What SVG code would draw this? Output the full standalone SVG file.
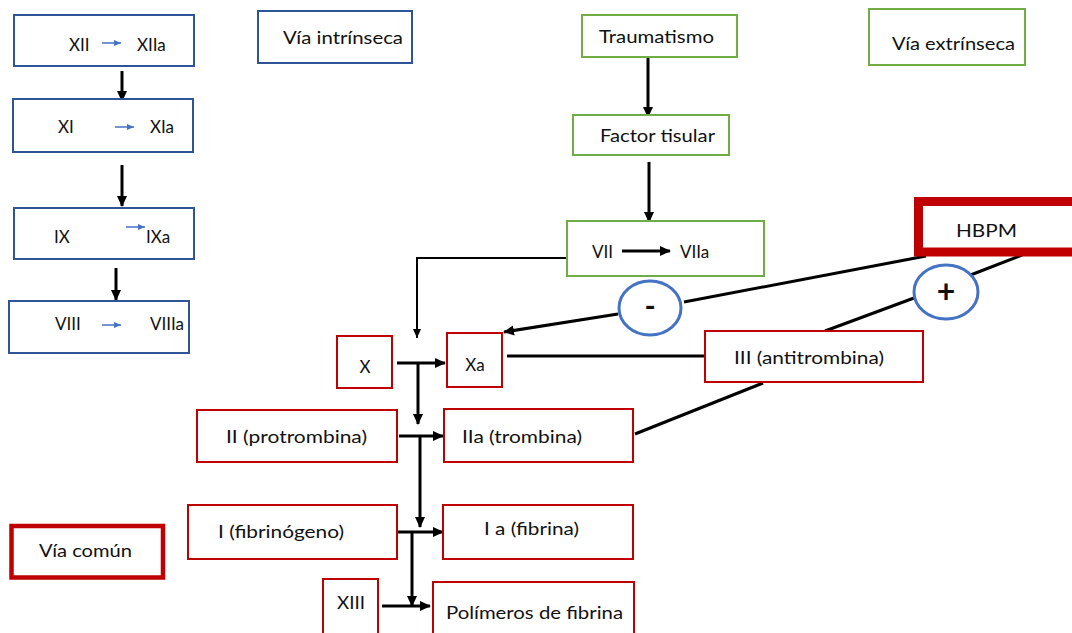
<svg xmlns="http://www.w3.org/2000/svg" width="1072" height="633" viewBox="0 0 1072 633">
<style>
text{font-family:Lato,"Open Sans","Liberation Sans",sans-serif;font-size:17px;fill:#111}
.b{fill:#fff;stroke:#2F5597;stroke-width:2}
.g{fill:#fff;stroke:#70AD47;stroke-width:2}
.r{fill:#fff;stroke:#C00000;stroke-width:2}
.c{stroke:#000;stroke-width:3;fill:none}
.t{stroke:#000;stroke-width:2;fill:none}
.bl{stroke:#4472C4;stroke-width:1.5;fill:none}
.o{fill:#fff;stroke:#4472C4;stroke-width:3}
</style>
<defs>
<marker id="ah" markerUnits="userSpaceOnUse" markerWidth="12" markerHeight="12" refX="10" refY="6" orient="auto"><path d="M0,1 L11,6 L0,11 Z" fill="#000"/></marker>
<marker id="ahs" markerUnits="userSpaceOnUse" markerWidth="10" markerHeight="10" refX="9" refY="5" orient="auto"><path d="M0,1 L9,5 L0,9 Z" fill="#000"/></marker>
<marker id="ab" markerUnits="userSpaceOnUse" markerWidth="8" markerHeight="8" refX="7" refY="4" orient="auto"><path d="M0,1 L7,4 L0,7 Z" fill="#4472C4"/></marker>
</defs>
<rect width="1072" height="633" fill="#fff"/>

<g id="connectors">
<line class="c" x1="122" y1="71" x2="122" y2="101" marker-end="url(#ah)"/>
<line class="c" x1="122" y1="165" x2="122" y2="206" marker-end="url(#ah)"/>
<line class="c" x1="116" y1="268" x2="116" y2="300" marker-end="url(#ah)"/>
<line class="c" x1="648" y1="57" x2="648" y2="117" marker-end="url(#ah)"/>
<line class="c" x1="649" y1="162" x2="649" y2="222" marker-end="url(#ah)"/>
<polyline class="t" points="567,258 417,258 417,338" marker-end="url(#ahs)"/>
<line class="c" x1="397" y1="363" x2="445" y2="363" marker-end="url(#ah)"/>
<line class="c" x1="418" y1="363" x2="418" y2="424" marker-end="url(#ah)"/>
<line class="c" x1="399" y1="436" x2="443" y2="436" marker-end="url(#ah)"/>
<line class="c" x1="420" y1="436" x2="420" y2="527" marker-end="url(#ah)"/>
<line class="c" x1="398" y1="532" x2="443" y2="532" marker-end="url(#ah)"/>
<line class="c" x1="412" y1="532" x2="412" y2="606" marker-end="url(#ah)"/>
<line class="c" x1="382" y1="606" x2="430" y2="606" marker-end="url(#ah)"/>
<line class="c" x1="926" y1="256" x2="684" y2="302"/>
<line class="c" x1="618" y1="314" x2="504" y2="332" marker-end="url(#ah)"/>
<line class="c" x1="1022" y1="255" x2="968" y2="276"/>
<line class="c" x1="914" y1="298" x2="825" y2="331"/>
<line class="c" x1="507" y1="356" x2="705" y2="356"/>
<line class="c" x1="763" y1="383" x2="635" y2="434"/>
</g>

<g id="n-xii"><rect class="b" x="14" y="15" width="180" height="51"/><text x="69" y="51">XII</text><line class="bl" x1="102" y1="43" x2="121" y2="43" marker-end="url(#ab)"/><text x="137" y="51">XIIa</text></g>
<g id="n-xi"><rect class="b" x="13" y="99" width="180" height="53"/><text x="58" y="133">XI</text><line class="bl" x1="115" y1="127" x2="134" y2="127" marker-end="url(#ab)"/><text x="150" y="133">XIa</text></g>
<g id="n-ix"><rect class="b" x="14" y="208" width="180" height="51"/><text x="54" y="243">IX</text><line class="bl" x1="126" y1="227" x2="145" y2="227" marker-end="url(#ab)"/><text x="146" y="243">IXa</text></g>
<g id="n-viii"><rect class="b" x="9" y="301" width="180" height="52"/><text x="55" y="330">VIII</text><line class="bl" x1="102" y1="325" x2="121" y2="325" marker-end="url(#ab)"/><text x="150" y="330">VIIIa</text></g>
<g id="n-intrinseca"><rect class="b" x="258" y="11" width="154" height="52"/><text x="283" y="44" textLength="120" lengthAdjust="spacingAndGlyphs">Vía intrínseca</text></g>

<g id="n-trauma"><rect class="g" x="582" y="15" width="155" height="42"/><text x="599" y="43" textLength="115" lengthAdjust="spacingAndGlyphs">Traumatismo</text></g>
<g id="n-factor"><rect class="g" x="573" y="115" width="156" height="40"/><text x="600" y="142" textLength="115" lengthAdjust="spacingAndGlyphs">Factor tisular</text></g>
<g id="n-vii"><rect class="g" x="567" y="221" width="197" height="55"/><text x="592" y="258">VII</text><line class="c" x1="622" y1="251" x2="670" y2="251" marker-end="url(#ah)"/><text x="680" y="258">VIIa</text></g>
<g id="n-extrinseca"><rect class="g" x="869" y="9" width="156" height="56"/><text x="892" y="50" textLength="123" lengthAdjust="spacingAndGlyphs">Vía extrínseca</text></g>

<g id="n-hbpm"><rect x="918.5" y="201.5" width="170" height="50.5" fill="#fff" stroke="#C00000" stroke-width="9"/><text x="956" y="237" textLength="61" lengthAdjust="spacingAndGlyphs">HBPM</text></g>
<g id="n-minus"><ellipse class="o" cx="650" cy="308" rx="31" ry="27"/><text x="650" y="317" text-anchor="middle" style="font-size:30px;font-weight:bold">-</text></g>
<g id="n-plus"><ellipse class="o" cx="946" cy="292" rx="32" ry="27"/><text x="946" y="303" text-anchor="middle" style="font-size:32px;font-weight:bold">+</text></g>

<g id="n-x"><rect class="r" x="337" y="336" width="55" height="52"/><text x="365" y="373" text-anchor="middle">X</text></g>
<g id="n-xa"><rect class="r" x="447" y="333" width="55" height="54"/><text x="475" y="371" text-anchor="middle">Xa</text></g>
<g id="n-iii"><rect class="r" x="705" y="331" width="218" height="51"/><text x="734" y="364" textLength="150" lengthAdjust="spacingAndGlyphs">III (antitrombina)</text></g>
<g id="n-ii"><rect class="r" x="197" y="410" width="200" height="52"/><text x="226" y="443" textLength="141" lengthAdjust="spacingAndGlyphs">II (protrombina)</text></g>
<g id="n-iia"><rect class="r" x="444" y="409" width="189" height="53"/><text x="462" y="443" textLength="120" lengthAdjust="spacingAndGlyphs">IIa (trombina)</text></g>
<g id="n-i"><rect class="r" x="188" y="505" width="209" height="54"/><text x="218" y="538" textLength="126" lengthAdjust="spacingAndGlyphs">I (fibrinógeno)</text></g>
<g id="n-ia"><rect class="r" x="443" y="505" width="190" height="54"/><text x="484" y="535" textLength="95" lengthAdjust="spacingAndGlyphs">I a (fibrina)</text></g>
<g id="n-xiii"><rect class="r" x="323" y="579" width="55" height="60"/><text x="337" y="609" textLength="28" lengthAdjust="spacingAndGlyphs">XIII</text></g>
<g id="n-polimeros"><rect class="r" x="433" y="582" width="201" height="60"/><text x="446" y="619" textLength="177" lengthAdjust="spacingAndGlyphs">Polímeros de fibrina</text></g>
<g id="n-comun"><rect x="11.5" y="526" width="151.5" height="51.5" fill="#fff" stroke="#C00000" stroke-width="4.5"/><text x="39" y="557" textLength="93" lengthAdjust="spacingAndGlyphs">Vía común</text></g>
</svg>
